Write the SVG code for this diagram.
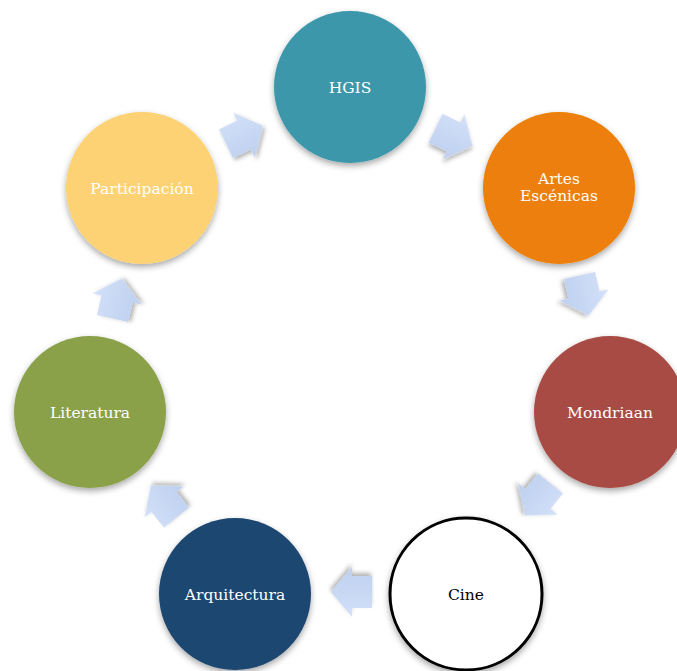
<svg xmlns="http://www.w3.org/2000/svg" width="677" height="671" viewBox="0 0 677 671">
<defs>
<filter id="sh" x="-20%" y="-20%" width="140%" height="140%">
<feDropShadow dx="0" dy="3" stdDeviation="3" flood-color="#000" flood-opacity="0.35"/>
</filter>
<filter id="ash" x="-30%" y="-30%" width="160%" height="160%">
<feDropShadow dx="1" dy="3" stdDeviation="2" flood-color="#000" flood-opacity="0.3"/>
</filter>
<linearGradient id="ag" x1="0" y1="0" x2="0" y2="1">
<stop offset="0" stop-color="#d3e0f8"/>
<stop offset="1" stop-color="#bdd0ef"/>
</linearGradient>
<polygon id="arr" points="-20,-16 0,-16 0,-25 21,0 0,25 0,16 -20,16"/>
</defs>
<style>
.n{filter:url(#sh);}
.t{font-family:"DejaVu Serif","Liberation Serif",serif;font-size:15.5px;fill:#fff;text-anchor:middle;}
.a{fill:url(#ag);filter:url(#ash);}
</style>
<rect width="677" height="671" fill="#fff"/>
<g id="connectors">
<use href="#arr" class="a" transform="translate(453.6,136.9) rotate(25.71)"/>
<use href="#arr" class="a" transform="translate(584,295) rotate(77.14)"/>
<use href="#arr" class="a" transform="translate(538,499) rotate(128.57)"/>
<use href="#arr" class="a" transform="translate(352,592) rotate(180)"/>
<use href="#arr" class="a" transform="translate(164,502) rotate(231.43)"/>
<use href="#arr" class="a" transform="translate(117,299) rotate(282.86)"/>
<use href="#arr" class="a" transform="translate(244,135) rotate(334.29)"/>
</g>
<g id="hgis">
<circle class="n" cx="350" cy="87" r="76" fill="#3c97ab"/>
<text class="t" x="350" y="93">HGIS</text>
</g>
<g id="artes">
<circle class="n" cx="559" cy="188" r="76" fill="#ec7f07"/>
<text class="t" x="559" y="184">Artes</text>
<text class="t" x="559" y="201">Escénicas</text>
</g>
<g id="mondriaan">
<circle class="n" cx="610" cy="412" r="76" fill="#a84c44"/>
<text class="t" x="610" y="418">Mondriaan</text>
</g>
<g id="cine">
<circle class="n" cx="466" cy="594" r="76" fill="#fff" stroke="#000" stroke-width="3"/>
<text class="t" x="466" y="600" style="fill:#000">Cine</text>
</g>
<g id="arquitectura">
<circle class="n" cx="235" cy="594" r="76" fill="#1f4670"/>
<text class="t" x="235" y="600">Arquitectura</text>
</g>
<g id="literatura">
<circle class="n" cx="90" cy="412" r="76" fill="#8ba14a"/>
<text class="t" x="90" y="418">Literatura</text>
</g>
<g id="participacion">
<circle class="n" cx="142" cy="188" r="76" fill="#fdd274"/>
<text class="t" x="142" y="194">Participación</text>
</g>
</svg>
